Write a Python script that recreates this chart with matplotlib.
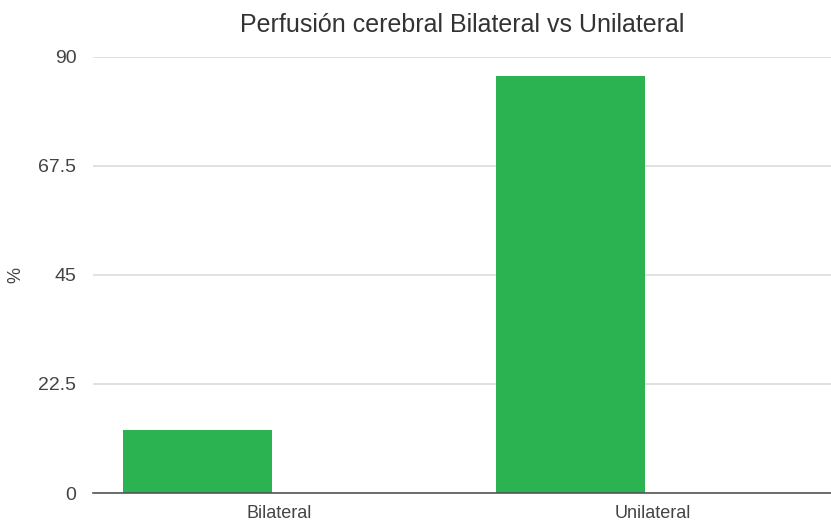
import matplotlib
matplotlib.use("Agg")
import matplotlib.pyplot as plt

categories = ["Bilateral", "Unilateral"]
values = [13, 86]
yticks = [0, 22.5, 45, 67.5, 90]
ytick_labels = ["0", "22.5", "45", "67.5", "90"]

plt.rcParams['font.family'] = ['Liberation Sans', 'DejaVu Sans']

fig = plt.figure(figsize=(8.31, 5.27), dpi=100)
ax = fig.add_axes([93/831, 1-493/527, 1-93/831, (493-57)/527])

pos = list(range(len(categories)))
ax.bar([p - 0.42 for p in pos], values, width=0.4, align='edge', color='#2bb351', zorder=3)

ax.set_xlim(-0.5, 1.478)
ax.set_ylim(0, 90)
ax.set_yticks(yticks)
ax.set_yticklabels(ytick_labels)
ax.set_xticks(pos)
ax.set_xticklabels(categories)

for s in ['top', 'right', 'left']:
    ax.spines[s].set_visible(False)
ax.spines['bottom'].set_color('#555555')
ax.spines['bottom'].set_linewidth(1.2)
ax.spines['bottom'].set_zorder(4)

ax.grid(axis='y', color='#dcdcdc', linewidth=1.2, zorder=0)
ax.tick_params(axis='y', length=0, pad=12, labelsize=14, labelcolor='#444444')
ax.tick_params(axis='x', length=0, pad=9, labelsize=13, labelcolor='#444444')

ax.set_ylabel('%', fontsize=13, color='#444444')
ax.yaxis.set_label_coords((24 - 93) / 738, 0.5)
ax.set_title('Perfusión cerebral Bilateral vs Unilateral', fontsize=18, color='#333333', pad=18)

fig.savefig('out.png', dpi=100)
